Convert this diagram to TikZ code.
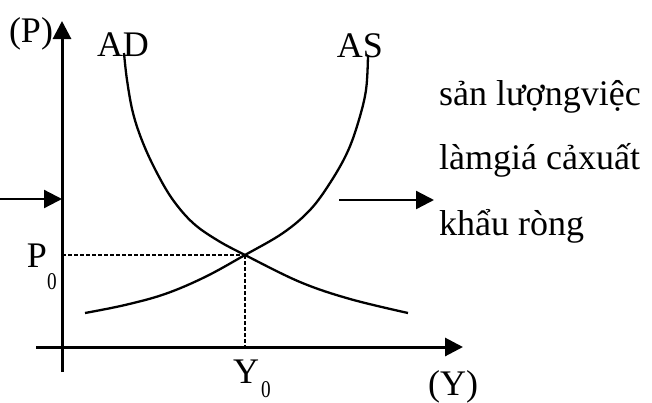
\documentclass[tikz,border=0pt]{standalone}
\usepackage{fontspec}
\setmainfont{Liberation Serif}
\usetikzlibrary{arrows.meta}
\begin{document}
\begin{tikzpicture}[x=1pt,y=-1pt,
  axis/.style={line width=3pt},
  curve/.style={line width=2.3pt},
  guide/.style={line width=2.2pt,dash pattern=on 3.5pt off 2.5pt},
  arr/.style={line width=2.3pt,-{Triangle[length=18pt,width=18pt]}},
  big/.style={inner sep=0pt,anchor=base,font=\fontsize{36}{40}\selectfont},
  sub/.style={inner sep=0pt,font=\fontsize{24}{26}\selectfont,xscale=0.8},
  side/.style={inner sep=0pt,anchor=base west,font=\fontsize{36}{40}\selectfont}]
\useasboundingbox (0,0) rectangle (652,402);
% axes
\coordinate (ybot) at (62,372);
\coordinate (ytop) at (62,21);
\coordinate (xl) at (36,347);
\coordinate (xr) at (463,347);
\draw[axis,-{Triangle[length=18pt,width=18pt]}] (ybot) -- (ytop);
\draw[axis,-{Triangle[length=18pt,width=18pt]}] (xl) -- (xr);
% curves
\draw[curve] plot[smooth,tension=0.6] coordinates {(124,53) (127,80) (133,113) (143,143) (157,173) (173,200) (193,223) (217,240) (245,255) (300,282) (350,299) (408,313)};
\draw[curve] plot[smooth,tension=0.6] coordinates {(85,313) (125,305) (165,294) (205,277) (245,255) (283,233) (310,210) (330,183) (347,153) (358,123) (366,90) (368,55)};
% equilibrium
\coordinate (E) at (245,255);
\coordinate (P0) at (62,255);
\coordinate (Y0) at (245,347);
\draw[guide] (P0) -- (E);
\draw[guide] (E) -- (Y0);
% side arrows
\coordinate (la) at (0,199);
\coordinate (lb) at (62,199);
\coordinate (ra) at (339,200);
\coordinate (rb) at (434,200);
\draw[arr] (la) -- (lb);
\draw[arr] (ra) -- (rb);
% labels
\node[big] (lP) at (31,42) {(P)};
\node[big] (lY) at (453,395) {(Y)};
\node[big] (lAD) at (123,56) {AD};
\node[big] (lAS) at (360,57) {AS};
\node[big] (lP0) at (37,267) {P};
\node[sub] (sP0) at (52,282) {0};
\node[big] (lY0) at (246,383) {Y};
\node[sub] (sY0) at (266,390) {0};
\node[side] (t1) at (439,105) {sản lượngviệc};
\node[side] (t2) at (439,169) {làmgiá cảxuất};
\node[side] (t3) at (439,235) {khẩu ròng};
\end{tikzpicture}
\end{document}
